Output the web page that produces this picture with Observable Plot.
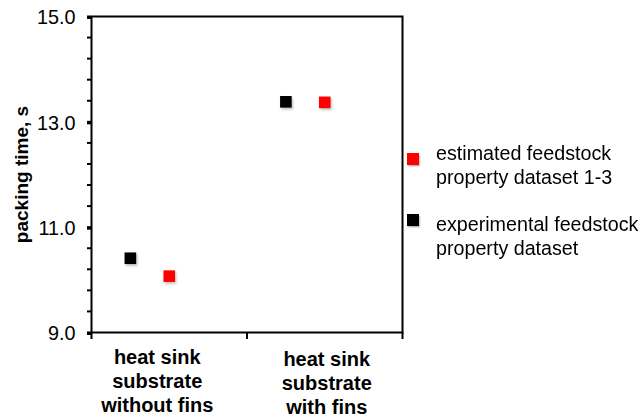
<!DOCTYPE html>
<html>
<head>
<meta charset="utf-8">
<script src="https://cdn.jsdelivr.net/npm/d3@7"></script>
<script src="https://cdn.jsdelivr.net/npm/@observablehq/plot@0.6"></script>
<style>
  html, body { margin: 0; padding: 0; background: white; }
  #wrap { position: relative; width: 641px; height: 417px; font-family: "Liberation Sans", Arial, sans-serif; }
  .leg { position: absolute; left: 436px; font-size: 19.7px; line-height: 24px; color: #000; white-space: nowrap; }
  .sw { position: absolute; left: 407px; width: 12px; height: 12px; box-shadow: 1px 1.5px 1.5px rgba(0,0,0,0.3); }
</style>
</head>
<body>
<div id="wrap"></div>
<script>
// ---- data ----
const categories = ["heat sink\nsubstrate\nwithout fins", "heat sink\nsubstrate\nwith fins"];
const estimated = [10.07, 13.37];     // estimated feedstock property dataset 1-3 (red)
const experimental = [10.41, 13.38];  // experimental feedstock property dataset (black)
const majorTicks = [9, 11, 13, 15];
const minorTicks = d3.range(0, 16).map(i => +(9 + i * 0.4).toFixed(1));
const yLabel = "packing time, s";
const legendLabels = ["estimated feedstock\nproperty dataset 1-3", "experimental feedstock\nproperty dataset"];
const seriesColors = ["#ff0000", "#000000"];

// points: position within category band (category index + offset)
const points = [
  ...experimental.map((v, i) => ({x: i + 0.25, y: v, s: "experimental"})),
  ...estimated.map((v, i) => ({x: i + 0.5, y: v, s: "estimated"}))
];

const font = "'Liberation Sans', Arial, sans-serif";
const chart = Plot.plot({
  width: 641,
  height: 417,
  marginLeft: 91,
  marginRight: 239,
  marginTop: 16,
  marginBottom: 85,
  x: {domain: [0, 2], axis: null},
  y: {domain: [9, 15], axis: null},
  style: {fontFamily: font, fontSize: "20px", color: "#000", background: "white", overflow: "visible"},
  marks: [
    Plot.axisY(minorTicks, {tickSize: 4, tickFormat: () => "", strokeWidth: 2, label: null}),
    Plot.axisY(majorTicks, {tickSize: 4, tickPadding: 12, tickFormat: d => d.toFixed(1), fontSize: 19.8, dy: 1.5, strokeWidth: 2, label: null}),
    Plot.axisX([0, 1, 2], {tickSize: 7, tickFormat: () => "", strokeWidth: 2, label: null}),
    Plot.frame({stroke: "#000", strokeWidth: 2}),
    Plot.text([categories[0]], {x: [0.5], frameAnchor: "bottom", lineAnchor: "top", dy: 15, dx: -12, lineHeight: 1.19, fontWeight: "bold", fontSize: 20}),
    Plot.text([categories[1]], {x: [1.5], frameAnchor: "bottom", lineAnchor: "top", dy: 17, dx: 2, lineHeight: 1.19, fontWeight: "bold", fontSize: 20}),
    Plot.text([yLabel], {frameAnchor: "left", textAnchor: "middle", rotate: -90, dx: -70, fontWeight: "bold", fontSize: 19}),
    // soft shadow
    Plot.dot(points, {x: "x", y: "y", symbol: "square", r: 6.55, fill: "#000", fillOpacity: 0.25, stroke: "none", dx: 1.2, dy: 1.8, imageFilter: "blur(1px)"}),
    Plot.dot(points, {x: "x", y: "y", symbol: "square", r: 6.55, fill: d => d.s === "estimated" ? seriesColors[0] : seriesColors[1], stroke: "none"})
  ]
});
const wrap = document.getElementById("wrap");
wrap.appendChild(chart);

// legend
const legTops = [140.8, 212.3];
const swTops = [153, 214];
legendLabels.forEach((lab, i) => {
  const sw = document.createElement("div");
  sw.className = "sw";
  sw.style.top = swTops[i] + "px";
  sw.style.background = seriesColors[i];
  wrap.appendChild(sw);
  const t = document.createElement("div");
  t.className = "leg";
  t.style.top = legTops[i] + "px";
  t.innerHTML = lab.split("\n").join("<br>");
  wrap.appendChild(t);
});
</script>
</body>
</html>
